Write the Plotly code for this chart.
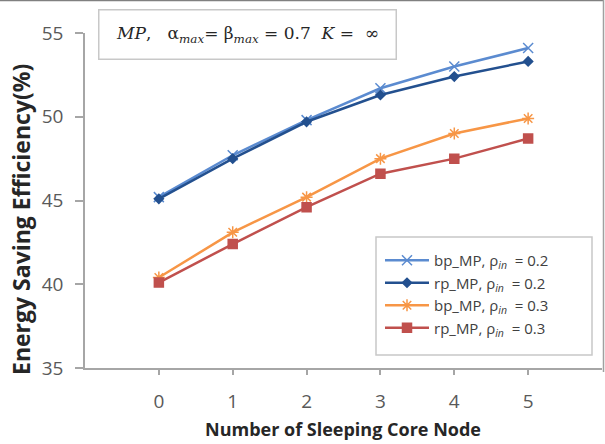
import plotly.graph_objects as go

x_vals = [0, 1, 2, 3, 4, 5]
bp_02 = [45.2, 47.7, 49.8, 51.7, 53.0, 54.1]
rp_02 = [45.1, 47.5, 49.7, 51.3, 52.4, 53.3]
bp_03 = [40.4, 43.1, 45.2, 47.5, 49.0, 49.9]
rp_03 = [40.1, 42.4, 44.6, 46.6, 47.5, 48.7]
series_names = [
    "bp_MP, ρ<sub><i>in</i></sub>  = 0.2",
    "rp_MP, ρ<sub><i>in</i></sub>  = 0.2",
    "bp_MP, ρ<sub><i>in</i></sub>  = 0.3",
    "rp_MP, ρ<sub><i>in</i></sub>  = 0.3",
]

styles = [
    dict(color="#5B8BD0", symbol="x-thin-open", size=10, width=2.5),
    dict(color="#23508F", symbol="diamond", size=7, width=2.5),
    dict(color="#F79646", symbol="asterisk-open", size=10, width=2.5),
    dict(color="#C0504D", symbol="square", size=9, width=2.5),
]

fig = go.Figure()
for ys, name, st in zip([bp_02, rp_02, bp_03, rp_03], series_names, styles):
    fig.add_trace(go.Scatter(
        x=x_vals, y=ys, name=name, mode="lines+markers",
        line=dict(color=st["color"], width=st["width"]),
        marker=dict(symbol=st["symbol"], size=st["size"], color=st["color"],
                    line=dict(color=st["color"], width=1.5)),
    ))

W, H = 605, 444
L, R, T, B = 85, 3, 33, 76
pw, ph = W - L - R, H - T - B

def px_x(px):
    return (px - L) / pw

def px_y(py):
    return (H - B - py) / ph

axis_color = "#A6A6A6"
tick_font = dict(family="Open Sans, Liberation Sans, sans-serif", size=19, color="#595959")

fig.update_layout(
    width=W, height=H,
    margin=dict(l=L, r=R, t=T, b=B),
    paper_bgcolor="white", plot_bgcolor="white",
    showlegend=True,
    legend=dict(
        x=px_x(380), y=px_y(244), xanchor="left", yanchor="top",
        borderwidth=0, bgcolor="rgba(0,0,0,0)",
        font=dict(family="Open Sans, Liberation Sans, sans-serif", size=15, color="#404040"),
        tracegroupgap=0, itemwidth=44,
    ),
    xaxis=dict(
        range=[-1, 6], tickvals=x_vals, ticktext=[str(v) for v in x_vals],
        showgrid=False, zeroline=False, showline=True, linecolor=axis_color, linewidth=1.5,
        ticks="outside", ticklen=5, tickcolor=axis_color, tickwidth=1.5,
        tickfont=tick_font, ticklabelstandoff=10,
    ),
    yaxis=dict(
        range=[35, 55], tickvals=[35, 40, 45, 50, 55],
        showgrid=False, zeroline=False, showline=True, linecolor=axis_color, linewidth=1.5,
        ticks="outside", ticklen=8, tickcolor=axis_color, tickwidth=1.5,
        tickfont=tick_font, ticklabelstandoff=8,
    ),
    annotations=[
        dict(text="<b>Number of Sleeping Core Node</b>", xref="paper", yref="paper",
             x=px_x(343), y=px_y(429), xanchor="center", yanchor="middle", showarrow=False,
             font=dict(family="Open Sans, Liberation Sans, sans-serif", size=18, color="#262626")),
        dict(text="<b>Energy Saving Efficiency(%)</b>", xref="paper", yref="paper",
             x=px_x(21), y=px_y(220), xanchor="center", yanchor="middle", showarrow=False,
             textangle=-90,
             font=dict(family="Open Sans, Liberation Sans, sans-serif", size=23, color="#262626")),
        dict(text="<i>MP</i>,   α<sub><i>max</i></sub>= β<sub><i>max</i></sub> = 0.7  <i>K</i> =  ∞",
             xref="paper", yref="paper", x=px_x(247), y=px_y(35),
             xanchor="center", yanchor="middle", showarrow=False,
             width=294, height=46, bordercolor="#C8C8C8", borderwidth=1.5, bgcolor="white",
             font=dict(family="DejaVu Serif, Liberation Serif, serif", size=17, color="#262626")),
    ],
    shapes=[
        dict(type="rect", xref="paper", yref="paper", x0=px_x(376), x1=px_x(592), y0=px_y(355), y1=px_y(237),
             line=dict(color="#C8C8C8", width=1.5), fillcolor="rgba(0,0,0,0)", layer="below"),
        dict(type="line", xref="paper", yref="paper", x0=px_x(0), x1=px_x(604), y0=px_y(0.5), y1=px_y(0.5),
             line=dict(color="#808080", width=1.5)),
        dict(type="line", xref="paper", yref="paper", x0=px_x(603.5), x1=px_x(603.5), y0=px_y(0), y1=px_y(372),
             line=dict(color="#A0A0A0", width=1.5)),
    ],
)

fig.write_html("out.html")
